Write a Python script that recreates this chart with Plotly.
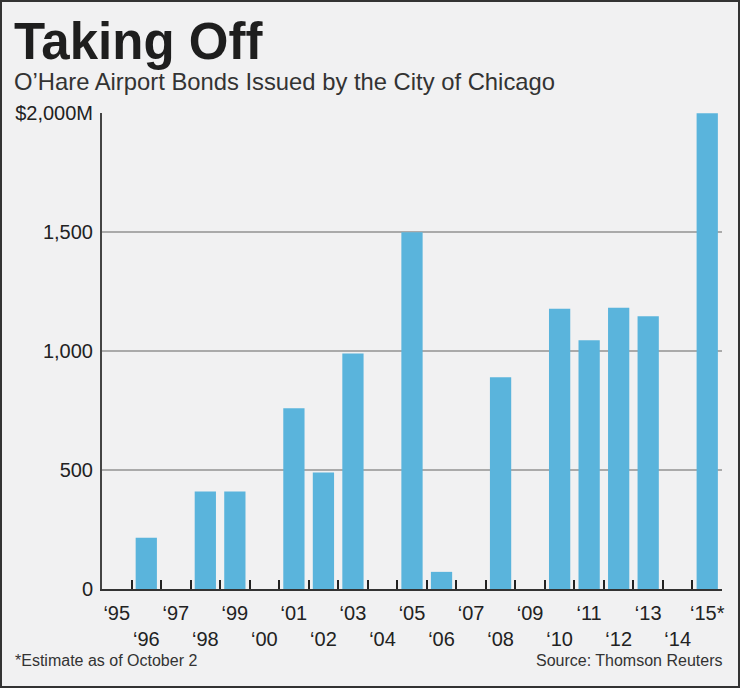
import plotly.graph_objects as go

years = ["1995", "1996", "1997", "1998", "1999", "2000", "2001", "2002", "2003", "2004",
         "2005", "2006", "2007", "2008", "2009", "2010", "2011", "2012", "2013", "2014", "2015"]
bonds_musd = [0, 215, 0, 410, 410, 0, 760, 490, 990, 0,
              1500, 72, 0, 890, 0, 1178, 1046, 1182, 1147, 0, 2000]
x_tick_labels = ["‘95", "<br>‘96", "‘97", "<br>‘98", "‘99", "<br>‘00", "‘01", "<br>‘02", "‘03", "<br>‘04",
                 "‘05", "<br>‘06", "‘07", "<br>‘08", "‘09", "<br>‘10", "‘11", "<br>‘12", "‘13", "<br>‘14", "‘15*"]
y_tick_vals = [0, 500, 1000, 1500, 2000]
y_tick_labels = ["0", "500", "1,000", "1,500", "$2,000M"]

title_text = "Taking Off"
subtitle_text = "O’Hare Airport Bonds Issued by the City of Chicago"
note_text = "*Estimate as of October 2"
source_text = "Source: Thomson Reuters"

W, H = 740, 688
L, R, T, B = 102, 18, 113, 99
PW, PH = W - L - R, H - T - B


def px_x(p):
    return (p - L) / PW


def px_y(p):
    return (H - B - p) / PH


NARROW = "Liberation Sans Narrow, Arial Narrow, Liberation Sans, sans-serif"
REG = "Liberation Sans, Arial, sans-serif"
BG = "#f1f1f2"

fig = go.Figure(
    go.Bar(
        x=years,
        y=bonds_musd,
        marker=dict(color="#5ab4dc", line=dict(width=0)),
        width=0.72,
        hoverinfo="x+y",
    )
)

fig.update_layout(
    width=W,
    height=H,
    margin=dict(l=L, r=R, t=T, b=B),
    paper_bgcolor=BG,
    plot_bgcolor=BG,
    showlegend=False,
    xaxis=dict(
        type="category",
        categoryorder="array",
        categoryarray=years,
        tickmode="array",
        tickvals=years,
        ticktext=x_tick_labels,
        tickson="boundaries",
        ticks="inside",
        ticklen=9,
        tickwidth=2,
        tickcolor="#222222",
        showline=True,
        linecolor="#333333",
        linewidth=2,
        showgrid=False,
        tickangle=0,
        tickfont=dict(family=NARROW, size=20, color="#222222"),
        ticklabelstandoff=5,
        range=[-0.5, 20.5],
        fixedrange=True,
    ),
    yaxis=dict(
        range=[0, 2001],
        tickmode="array",
        tickvals=y_tick_vals,
        ticktext=y_tick_labels,
        ticks="",
        showline=True,
        linecolor="#444444",
        linewidth=2,
        showgrid=True,
        gridcolor="#aaaaaa",
        gridwidth=1.5,
        zeroline=False,
        tickfont=dict(family=NARROW, size=20, color="#222222"),
        ticklabelstandoff=3,
        fixedrange=True,
    ),
    annotations=[
        dict(text=f"<b>{title_text}</b>", xref="paper", yref="paper",
             x=px_x(12), y=px_y(41), xanchor="left", yanchor="middle",
             showarrow=False, font=dict(family=NARROW, size=51, color="#1e1e1e")),
        dict(text=subtitle_text, xref="paper", yref="paper",
             x=px_x(12), y=px_y(81), xanchor="left", yanchor="middle",
             showarrow=False, font=dict(family=REG, size=23.8, color="#333333")),
        dict(text=note_text, xref="paper", yref="paper",
             x=px_x(13), y=px_y(660), xanchor="left", yanchor="middle",
             showarrow=False, font=dict(family=NARROW, size=16, color="#333333")),
        dict(text=source_text, xref="paper", yref="paper",
             x=px_x(724), y=px_y(660), xanchor="right", yanchor="middle",
             showarrow=False, font=dict(family=NARROW, size=16, color="#333333")),
    ],
    shapes=[
        dict(type="rect", xref="paper", yref="paper",
             x0=px_x(1), x1=px_x(739), y0=px_y(687), y1=px_y(1),
             line=dict(color="#333333", width=2), fillcolor="rgba(0,0,0,0)", layer="above"),
    ],
)

fig.write_html(
    "out.html",
    config={"displayModeBar": False},
    post_script="document.body.style.margin='0';document.body.style.padding='0';",
)
